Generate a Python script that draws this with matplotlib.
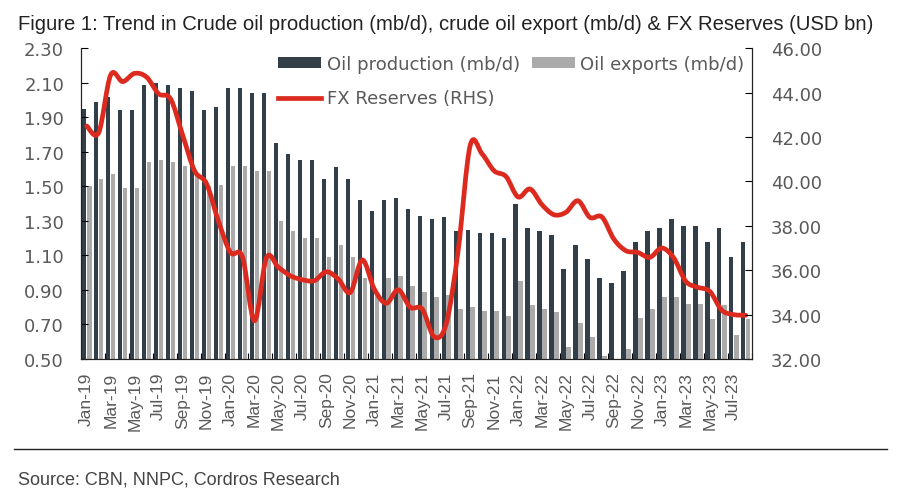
import numpy as np
import matplotlib
matplotlib.use("Agg")
import matplotlib.pyplot as plt
from matplotlib.path import Path
from matplotlib.patches import PathPatch
from matplotlib.ticker import FormatStrFormatter, FixedLocator

# monthly data, Jan-19 .. Aug-23
month_names = ["Jan", "Feb", "Mar", "Apr", "May", "Jun",
               "Jul", "Aug", "Sep", "Oct", "Nov", "Dec"]
months = [f"{m}-{y}" for y in range(19, 24) for m in month_names][:56]

oil_production = [1.95, 1.99, 2.02, 1.94, 1.94, 2.09, 2.10, 2.09, 2.07, 2.05,
                  1.94, 1.96, 2.07, 2.07, 2.04, 2.04, 1.75, 1.69, 1.65, 1.65,
                  1.54, 1.61, 1.54, 1.42, 1.36, 1.42, 1.43, 1.37, 1.33, 1.31,
                  1.32, 1.24, 1.25, 1.23, 1.23, 1.20, 1.40, 1.26, 1.24, 1.22,
                  1.02, 1.16, 1.08, 0.97, 0.94, 1.01, 1.18, 1.24, 1.26, 1.31,
                  1.27, 1.27, 1.18, 1.26, 1.09, 1.18]

oil_exports = [1.50, 1.54, 1.57, 1.49, 1.49, 1.64, 1.65, 1.64, 1.62, 1.58,
               1.50, 1.51, 1.62, 1.62, 1.59, 1.59, 1.30, 1.24, 1.20, 1.20,
               1.09, 1.16, 1.09, 0.97, 0.88, 0.97, 0.98, 0.92, 0.89, 0.86,
               0.87, 0.79, 0.80, 0.78, 0.78, 0.75, 0.95, 0.81, 0.79, 0.77,
               0.57, 0.71, 0.63, 0.52, np.nan, 0.56, 0.74, 0.79, 0.86, 0.86,
               0.82, 0.82, 0.73, 0.81, 0.64, 0.73]

fx_reserves = [42.5, 42.2, 44.8, 44.5, 44.87, 44.7, 43.95, 43.72, 42.1, 40.48,
               39.9, 38.2, 36.8, 36.6, 33.72, 36.56, 36.13, 35.75, 35.57, 35.53,
               35.93, 35.60, 35.0, 36.46, 35.15, 34.51, 35.12, 34.33, 34.25, 33.0,
               33.58, 36.88, 41.61, 41.24, 40.48, 40.22, 39.3, 39.66, 38.95, 38.5,
               38.61, 39.13, 38.38, 38.4, 37.4, 36.88, 36.80, 36.58, 37.0, 36.55,
               35.5, 35.23, 35.05, 34.2, 34.0, 33.97]

DARK = "#333f48"
GREY = "#ababab"
RED = "#dc2a1f"
TXT = "#595959"
NUM_FONT = "DejaVu Sans"
LAB_FONT = "Liberation Sans"


def smooth_path(xs, ys):
    # catmull-rom style bezier, like excel's smoothed line
    verts = [(xs[0], ys[0])]
    codes = [Path.MOVETO]
    n = len(xs)
    for i in range(n - 1):
        x0, y0 = (xs[i - 1], ys[i - 1]) if i > 0 else (xs[i], ys[i])
        x1, y1 = xs[i], ys[i]
        x2, y2 = xs[i + 1], ys[i + 1]
        x3, y3 = (xs[i + 2], ys[i + 2]) if i + 2 < n else (x2, y2)
        c1 = (x1 + (x2 - x0) / 6, y1 + (y2 - y0) / 6)
        c2 = (x2 - (x3 - x1) / 6, y2 - (y3 - y1) / 6)
        verts += [c1, c2, (x2, y2)]
        codes += [Path.CURVE4] * 3
    return Path(verts, codes)


fig = plt.figure(figsize=(9, 5.02), dpi=100)
ax = fig.add_axes([0.0897, 0.2829, 0.7455, 0.6189])

x = np.arange(len(months))
b1 = ax.bar(x - 0.2, oil_production, width=0.36, color=DARK, label="Oil production (mb/d)")
b2 = ax.bar(x + 0.21, oil_exports, width=0.38, color=GREY, label="Oil exports (mb/d)")

ax.set_xlim(-0.5, len(months) - 0.5)
ax.set_ylim(0.5, 2.3)
ax.set_yticks(np.arange(0.5, 2.31, 0.2))
ax.yaxis.set_major_formatter(FormatStrFormatter("%.2f"))

ax.set_xticks(x[::2])
ax.set_xticklabels(months[::2], rotation=90, fontsize=12.5, color=TXT, family=LAB_FONT)
ax.xaxis.set_minor_locator(FixedLocator(np.arange(1.5, len(months), 2)))
ax.tick_params(axis="x", which="major", length=0, pad=9)
ax.tick_params(axis="x", which="minor", direction="in", length=4, width=0.8)
ax.tick_params(axis="y", direction="in", length=5, width=0.8, pad=12,
               labelsize=13, labelcolor=TXT)
for lab in ax.get_yticklabels():
    lab.set_family(NUM_FONT)

ax2 = ax.twinx()
ax2.set_ylim(32, 46)
ax2.set_yticks(np.arange(32, 46.1, 2))
ax2.yaxis.set_major_formatter(FormatStrFormatter("%.2f"))
ax2.tick_params(axis="y", direction="in", length=5, width=0.8, pad=14,
                labelsize=13, labelcolor=TXT)
for lab in ax2.get_yticklabels():
    lab.set_family(NUM_FONT)

fx_patch = PathPatch(smooth_path(x.astype(float), fx_reserves), fill=False,
                     edgecolor=RED, lw=3.4, capstyle="round", joinstyle="round")
ax2.add_patch(fx_patch)
fx_line, = ax2.plot([], [], color=RED, lw=3.4, label="FX Reserves (RHS)")

for a in (ax, ax2):
    a.spines["top"].set_visible(False)
    for s in ("left", "right", "bottom"):
        a.spines[s].set_linewidth(0.8)
        a.spines[s].set_color("#222222")

leg = ax.legend([b1, fx_line, b2],
                ["Oil production (mb/d)", "FX Reserves (RHS)", "Oil exports (mb/d)"],
                ncol=2, loc="upper left", bbox_to_anchor=(0.27, 1.03),
                frameon=False, handlelength=2.4, handleheight=0.55,
                handletextpad=0.3, columnspacing=0.65, labelspacing=0.9,
                prop={"family": NUM_FONT, "size": 13})
for t in leg.get_texts():
    t.set_color(TXT)
leg.set_zorder(5)

fig.text(0.02, 1 - 25 / 502, "Figure 1: Trend in Crude oil production (mb/d), crude oil export (mb/d) & FX Reserves (USD bn)",
         fontsize=14.6, family=LAB_FONT, color="#222222", va="center")
fig.add_artist(plt.Line2D([0.016, 0.985], [1 - 450 / 502, 1 - 450 / 502],
                          color="#222222", lw=1))
fig.text(0.02, 1 - 480 / 502, "Source: CBN, NNPC, Cordros Research",
         fontsize=13, family=LAB_FONT, color="#444444", va="center")

fig.savefig("out.png", dpi=100)
